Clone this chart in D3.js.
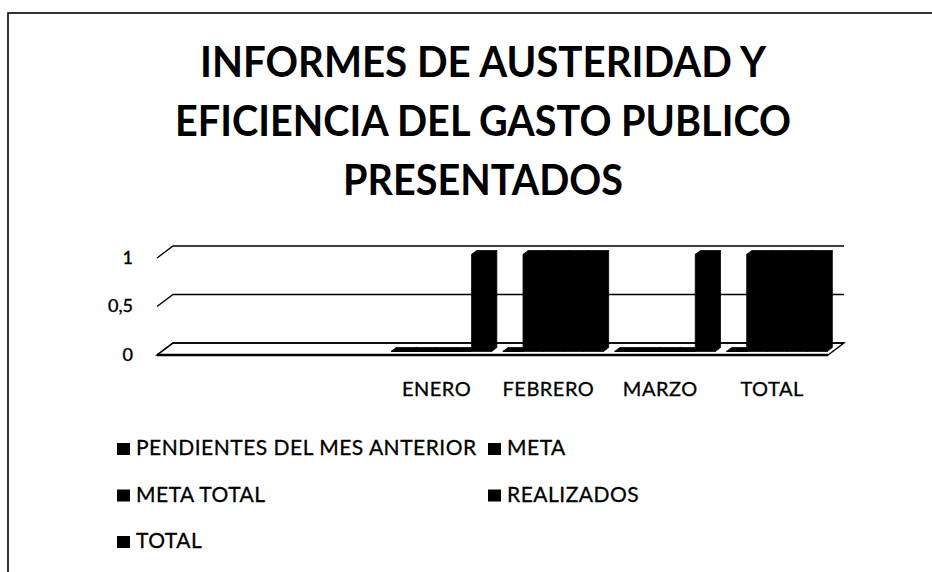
<!DOCTYPE html>
<html>
<head>
<meta charset="utf-8">
<script src="https://cdn.jsdelivr.net/npm/d3@7"></script>
<style>
  body { margin: 0; background: #fff; }
  svg { display: block; font-family: Lato, "Open Sans", sans-serif; }
</style>
</head>
<body>
<div id="chart"></div>
<script>
// chart data
const titleLines = ["INFORMES DE AUSTERIDAD Y", "EFICIENCIA DEL GASTO PUBLICO", "PRESENTADOS"];
const categories = ["", " ", "ENERO", "FEBRERO", "MARZO", "TOTAL"];
const seriesNames = ["PENDIENTES DEL MES ANTERIOR", "META", "META TOTAL", "REALIZADOS", "TOTAL"];
const pendientes = [null, null, 0, 0, 0, 0];
const meta       = [null, null, 0, 1, 0, 1];
const metaTotal  = [null, null, 0, 1, 0, 1];
const realizados = [null, null, 0, 1, 0, 1];
const total      = [null, null, 1, 1, 1, 1];
const yTicks = [0, 0.5, 1];
const yTickLabels = ["0", "0,5", "1"];

const seriesValues = [pendientes, meta, metaTotal, realizados, total];

(function () {
  const W = 932, H = 572;
  const svg = d3.select("#chart").append("svg")
    .attr("width", W)
    .attr("height", H);

  svg.append("rect").attr("width", W).attr("height", H).attr("fill", "#fff");

  // scanned frame (only top and left borders are on the page)
  svg.append("rect")
    .attr("x", 8).attr("y", 13)
    .attr("width", 960).attr("height", 600)
    .attr("fill", "none")
    .attr("stroke", "#000")
    .attr("stroke-width", 1.6);

  // title
  const titleWidths = [566, 616, 280];
  svg.append("g").selectAll("text")
    .data(titleLines)
    .join("text")
    .attr("x", 483)
    .attr("y", (d, i) => 77 + i * 59)
    .attr("text-anchor", "middle")
    .attr("font-size", 42)
    .attr("font-weight", 700)
    .attr("textLength", (d, i) => titleWidths[i])
    .attr("lengthAdjust", "spacingAndGlyphs")
    .text(d => d);

  // 3D plot geometry: front plane + depth vector
  const depth = { dx: 16, dy: -12 };
  const near = 0.3, far = 0.62;

  const x = d3.scaleBand().domain(categories).range([157, 828])
    .paddingInner(0.1).paddingOuter(0.05);
  const xs = d3.scaleBand().domain(seriesNames).range([0, x.bandwidth()]);
  const y = d3.scaleLinear().domain([0, 1]).range([355, 258]);

  const plot = svg.append("g");

  // floor
  const fl = x.range()[0], fr = x.range()[1];
  plot.append("path")
    .attr("d", `M${fl},${y(0)}L${fr},${y(0)}L${fr + depth.dx},${y(0) + depth.dy}L${fl + depth.dx},${y(0) + depth.dy}Z`)
    .attr("fill", "#fff")
    .attr("stroke", "#000")
    .attr("stroke-width", 1.4);
  plot.append("line")
    .attr("x1", fl).attr("x2", fr)
    .attr("y1", y(0)).attr("y2", y(0))
    .attr("stroke", "#000").attr("stroke-width", 2.4);

  // gridlines: left wall slant + back wall line
  yTicks.forEach(v => {
    plot.append("path")
      .attr("d", `M${fl},${y(v)}L${fl + depth.dx},${y(v) + depth.dy}L${fr + depth.dx},${y(v) + depth.dy}`)
      .attr("fill", "none")
      .attr("stroke", "#000")
      .attr("stroke-width", 1.4);
  });

  // y tick labels
  plot.append("g").selectAll("text")
    .data(yTicks)
    .join("text")
    .attr("x", 133)
    .attr("y", d => y(d) + 1)
    .attr("text-anchor", "end")
    .attr("dominant-baseline", "middle")
    .attr("font-size", 18)
    .attr("stroke", "#000")
    .attr("stroke-width", 0.4)
    .text((d, i) => yTickLabels[i]);

  // bars as 3D columns
  const bars = [];
  categories.forEach((c, ci) => {
    seriesNames.forEach((s, si) => {
      const v = seriesValues[si][ci];
      if (v === null) return;
      bars.push({ c, s, v });
    });
  });

  function barPath(d) {
    const x0 = x(d.c) + xs(d.s), x1 = x0 + xs.bandwidth();
    const yt = y(d.v), yb = y(0);
    const nx = near * depth.dx, ny = near * depth.dy;
    const fx = far * depth.dx, fy = far * depth.dy;
    const front = `M${x0 + nx},${yt + ny}L${x1 + nx},${yt + ny}L${x1 + nx},${yb + ny}L${x0 + nx},${yb + ny}Z`;
    const side = `M${x1 + nx},${yt + ny}L${x1 + fx},${yt + fy}L${x1 + fx},${yb + fy}L${x1 + nx},${yb + ny}Z`;
    const top = `M${x0 + nx},${yt + ny}L${x1 + nx},${yt + ny}L${x1 + fx},${yt + fy}L${x0 + fx},${yt + fy}Z`;
    return front + side + top;
  }

  plot.append("g").selectAll("path")
    .data(bars)
    .join("path")
    .attr("d", barPath)
    .attr("fill", "#000")
    .attr("stroke", "#000")
    .attr("stroke-width", 0.8);

  // category labels
  plot.append("g").selectAll("text")
    .data(categories)
    .join("text")
    .attr("x", d => x(d) + x.bandwidth() / 2)
    .attr("y", 396)
    .attr("text-anchor", "middle")
    .attr("font-size", 20)
    .attr("letter-spacing", 0.5)
    .attr("stroke", "#000")
    .attr("stroke-width", 0.3)
    .text(d => d.trim());

  // legend, two columns
  const legend = svg.append("g");
  seriesNames.forEach((name, i) => {
    const col = i % 2, row = Math.floor(i / 2);
    const lx = col === 0 ? 117 : 488;
    const ly = 449 + row * 46.5;
    legend.append("rect")
      .attr("x", lx).attr("y", ly - 6)
      .attr("width", 13).attr("height", 12)
      .attr("fill", "#000");
    legend.append("text")
      .attr("x", lx + 19)
      .attr("y", ly + 1)
      .attr("dominant-baseline", "middle")
      .attr("font-size", 21)
      .attr("letter-spacing", 0.5)
      .attr("stroke", "#000")
      .attr("stroke-width", 0.3)
      .text(name);
  });
})();
</script>
</body>
</html>
